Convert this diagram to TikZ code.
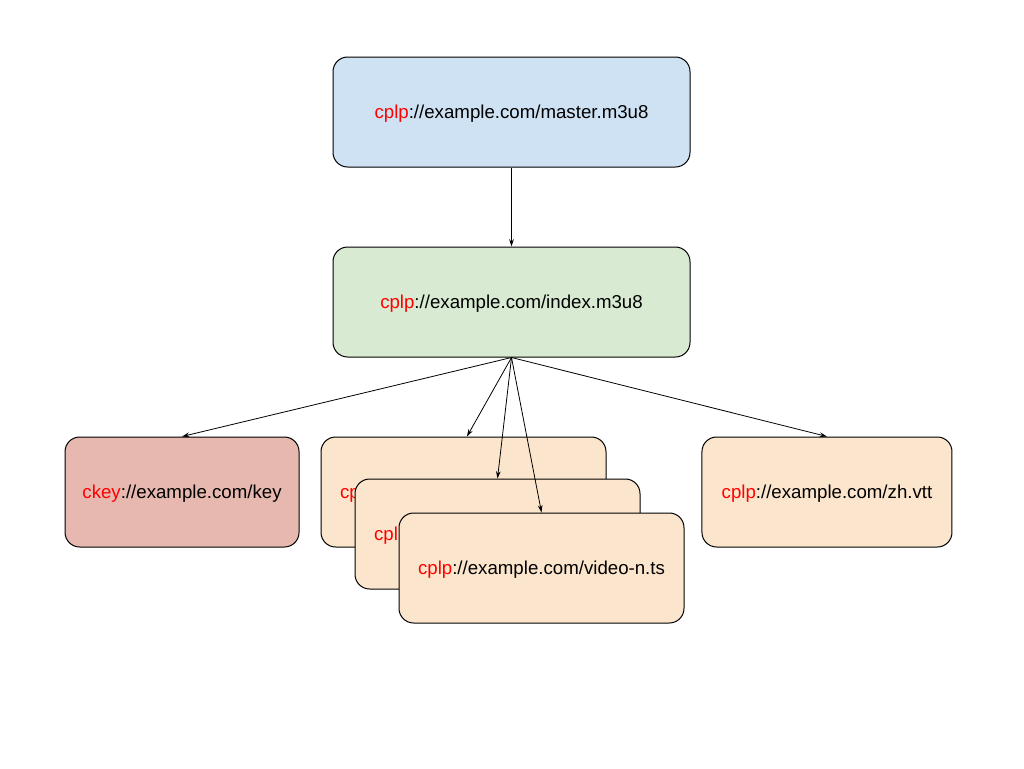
\documentclass[tikz,border=0pt]{standalone}
\usepackage{fontspec}
\setmainfont{Liberation Sans}
\usetikzlibrary{positioning, arrows.meta}
\definecolor{masterblue}{HTML}{CFE2F3}
\definecolor{indexgreen}{HTML}{D9EAD3}
\definecolor{keyred}{HTML}{E6B8AF}
\definecolor{segorange}{HTML}{FCE5CD}
\newcommand{\redpart}[1]{\textcolor{red}{#1}}

\begin{document}
\begin{tikzpicture}[on grid, >={Stealth[length=5.5pt,width=3.5pt]},
    box/.style={draw, line width=0.75pt, rounded corners=11pt, minimum height=82.5pt,
      inner sep=0pt, text height=13pt, text depth=3pt, font=\fontsize{14pt}{17pt}\selectfont},
    wide/.style={box, minimum width=267.75pt},
    seg/.style={box, fill=segorange, minimum width=213.75pt},
    link/.style={->, line width=0.6pt}]

  \useasboundingbox (0,0) rectangle (768pt,-576pt);

  \node[wide, fill=masterblue] (master) at (383.625pt,-84pt) {\redpart{cplp}://example.com/master.m3u8};
  \node[wide, fill=indexgreen] (index)  [below=142.5pt of master] {\redpart{cplp}://example.com/index.m3u8};

  \node[box, fill=keyred, minimum width=175.5pt] (key) [below left=142.5pt and 247.1pt of index] {\redpart{ckey}://example.com/key};
  \node[seg] (video1) [below left=142.5pt and 36pt of index]   {\redpart{cplp}://example.com/video-1.ts};
  \node[seg] (video2) [below right=31.5pt and 25.5pt of video1] {\redpart{cplp}://example.com/video-2.ts};
  \node[seg] (videon) [below right=25.5pt and 33pt of video2]   {\redpart{cplp}://example.com/video-n.ts};
  \node[box, fill=segorange, minimum width=187.5pt] (subs) [below right=142.5pt and 236.6pt of index] {\redpart{cplp}://example.com/zh.vtt};

  \draw[link] (master) -- (index);
  \draw[link] (index.south) -- (key.north);
  \draw[link] (index.south) -- ([xshift=2.6pt]video1.north);
  \draw[link] (index.south) -- (video2.north);
  \draw[link] (index.south) -- (videon.north);
  \draw[link] (index.south) -- (subs.north);
\end{tikzpicture}
\end{document}
